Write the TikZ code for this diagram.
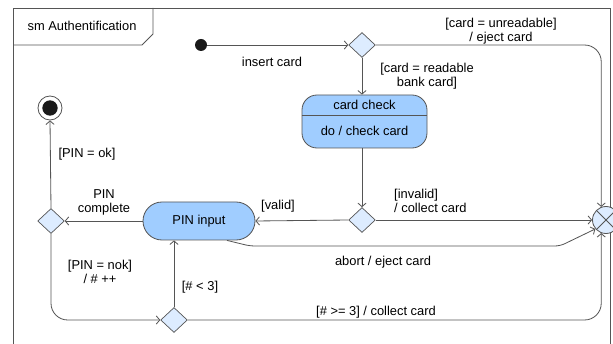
\documentclass[tikz,border=0pt]{standalone}
\usepackage{fontspec}
\setmainfont{Liberation Sans}
\usetikzlibrary{arrows.meta,shapes.geometric}

\definecolor{statefill}{RGB}{160,205,255}
\definecolor{decfill}{RGB}{221,236,255}
\definecolor{linegray}{RGB}{85,85,85}

\tikzset{
  every node/.style={font=\fontsize{11}{12}\selectfont},
  state/.style={draw=linegray, line width=0.7pt, fill=statefill, rounded corners=0.45cm},
  decision/.style={diamond, draw=linegray, line width=0.6pt, fill=decfill, inner sep=0pt,
    minimum width=0.8cm, minimum height=0.75cm},
  trans/.style={draw=linegray, line width=0.7pt, -{Straight Barb[length=3pt,width=7pt]}},
  lbl/.style={inner sep=0pt, align=center}
}

\begin{document}
\begin{tikzpicture}[x=0.03cm, y=-0.03cm]
  \useasboundingbox (0,0) rectangle (613,344);

  % frame
  \draw[linegray, line width=0.7pt] (13,360) -- (13,8) -- (610,8) -- (610,360);
  \draw[linegray, line width=0.7pt] (13,45) -- (142,45) -- (153,34) -- (153,8);
  \node[lbl] (title) at (82,26) {sm Authentification};

  % pseudo states
  \node[circle, fill=black!90, inner sep=0pt, minimum size=0.36cm] (init) at (201,45) {};
  \node[circle, draw=linegray, line width=0.7pt, fill=white, inner sep=0pt, minimum size=0.72cm] (final) at (50,108) {};
  \node[circle, fill=black!90, inner sep=0pt, minimum size=0.46cm] at (final) {};
  \node[circle, draw=linegray, line width=0.7pt, fill=decfill, inner sep=0pt, minimum size=0.81cm,
    path picture={\draw[linegray, line width=0.7pt]
      (path picture bounding box.north west) -- (path picture bounding box.south east)
      (path picture bounding box.south west) -- (path picture bounding box.north east);}]
    (exitpt) at (606,220) {};

  \node[decision] (topdec) at (362,45) {};
  \node[decision] (middec) at (362,220) {};
  \node[decision] (leftdec) at (51,221) {};
  \node[decision] (botdec) at (174,320) {};

  % states
  \node[state, minimum width=3.75cm, minimum height=1.59cm] (cardcheck) at (364.5,121.5) {};
  \node[lbl] (cctitle) at (364.5,105) {card check};
  \node[lbl] (ccdo) at (364.5,131) {do / check card};
  \draw[linegray, line width=0.7pt] (cardcheck.west |- 0,115) -- (cardcheck.east |- 0,115);
  \node[state, rounded corners=0.57cm, minimum width=3.36cm, minimum height=1.14cm] (pin) at (199,221) {PIN input};

  % transitions
  \draw[trans] (init) -- (topdec.west);
  \draw[trans, rounded corners=0.5cm] (topdec.east) -| (exitpt.110);
  \draw[trans] (topdec.south) -- (topdec.south |- cardcheck.north);
  \draw[trans] (cardcheck.south -| middec) -- (middec.north);
  \draw[trans] (middec.east) -- (exitpt.west);
  \draw[trans] (middec.west) -- (pin.east);
  \draw[trans] (pin.west) -- (leftdec.east);
  \draw[trans] (leftdec.north) -- (final.south);
  \draw[trans, rounded corners=0.5cm] (leftdec.south) |- (botdec.west);
  \draw[trans] (botdec.north) -- (botdec.north |- pin.south);
  \draw[trans, rounded corners=0.5cm] (botdec.east) -| (exitpt.250);
  \draw[trans, rounded corners=0.15cm] ([xshift=0.84cm]pin.south) -- (250,246) -- (560,246) -- (exitpt.220);

  % labels
  \node[lbl] (linsert) at (272,62) {insert card};
  \node[lbl] (lunread) at (501,31) {[card = unreadable]\\/ eject card};
  \node[lbl] (lread) at (427,76) {[card = readable\\bank card]};
  \node[lbl, align=left, anchor=west] (linvalid) at (394,201) {[invalid]\\/ collect card};
  \node[lbl] (lvalid) at (278,206) {[valid]};
  \node[lbl] (lcomplete) at (104,202) {PIN\\complete};
  \node[lbl] (lok) at (87,154) {[PIN = ok]};
  \node[lbl] (lnok) at (100,272) {[PIN = nok]\\/ \# ++};
  \node[lbl] (lless) at (200,287) {[\# < 3]};
  \node[lbl] (labort) at (383,262) {abort / eject card};
  \node[lbl] (lmore) at (376,312) {[\# >= 3] / collect card};
\end{tikzpicture}
\end{document}
